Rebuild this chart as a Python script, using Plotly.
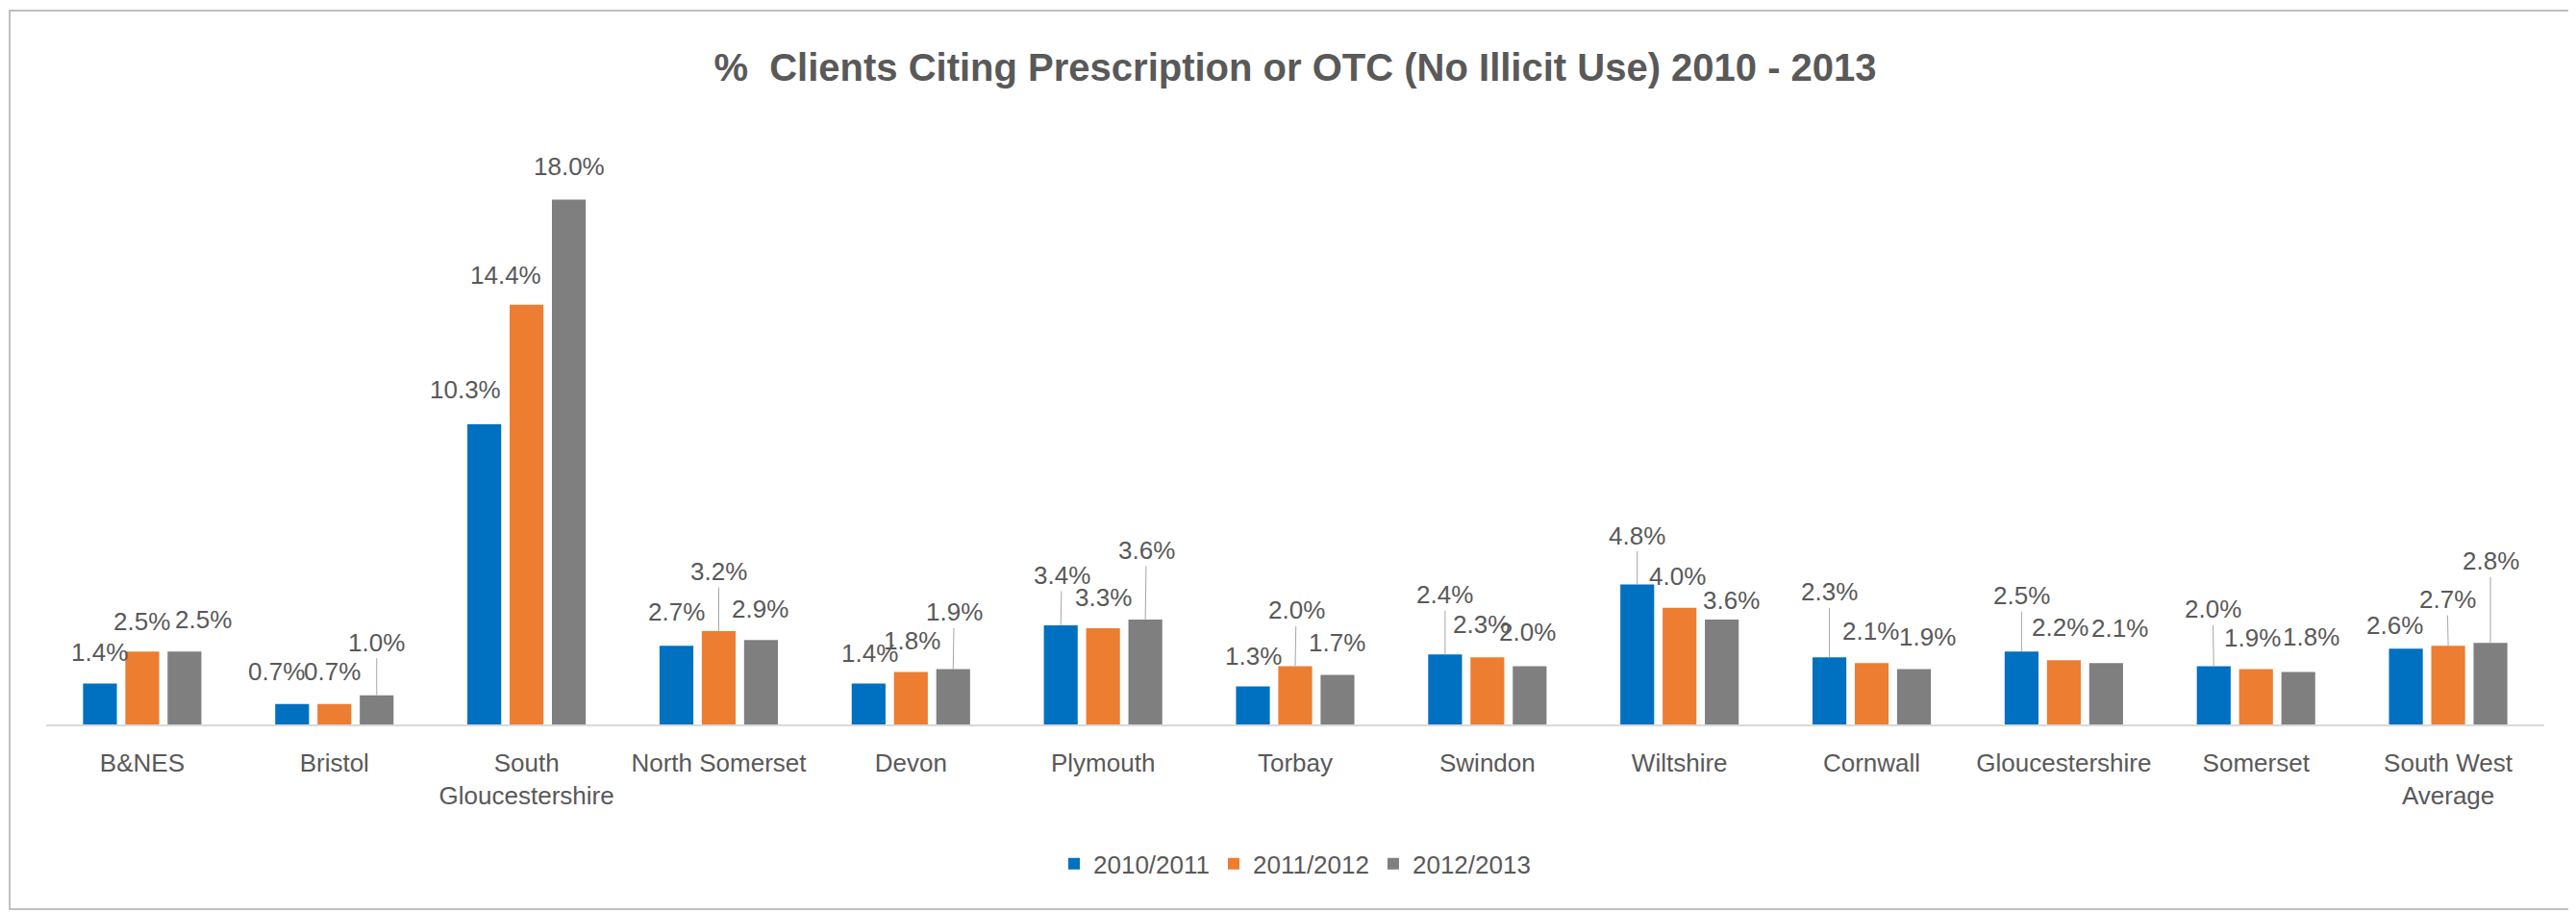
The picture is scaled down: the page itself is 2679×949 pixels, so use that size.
import plotly.graph_objects as go

# data
areas = ["B&NES", "Bristol", "South<br>Gloucestershire", "North Somerset", "Devon",
         "Plymouth", "Torbay", "Swindon", "Wiltshire", "Cornwall",
         "Gloucestershire", "Somerset", "South West<br>Average"]
years = ["2010/2011", "2011/2012", "2012/2013"]
pct_2010_11 = [1.4, 0.7, 10.3, 2.7, 1.4, 3.4, 1.3, 2.4, 4.8, 2.3, 2.5, 2.0, 2.6]
pct_2011_12 = [2.5, 0.7, 14.4, 3.2, 1.8, 3.3, 2.0, 2.3, 4.0, 2.1, 2.2, 1.9, 2.7]
pct_2012_13 = [2.5, 1.0, 18.0, 2.9, 1.9, 3.6, 1.7, 2.0, 3.6, 1.9, 2.1, 1.8, 2.8]

colors = ["#0070C0", "#ED7D31", "#7F7F7F"]

# hand-placed data label offsets (pixels: shift right, distance above bar top)
label_dx = [
    [0, -16, -20, 0, 1, 1, 0, 0, 0, 0, 0, -1, -12],
    [0, -2, -22, 0, 1, 0, 1, -6, -2, -1, -4, -4, -1],
    [20, 0, 0, -1, 1, 1, 0, -2, 10, 14, 14, 13, 0],
]
label_dy = [
    [33, 34, 36, 35, 32, 52, 32, 62, 51, 68, 58, 59, 24],
    [31, 34, 31, 62, 32, 32, 58, 34, 33, 33, 34, 32, 48],
    [33, 55, 35, 32, 59, 72, 33, 35, 20, 33, 36, 36, 85],
]

FONT = "Liberation Sans, Arial, sans-serif"
TXT = "#595959"

fig = go.Figure()
series = [pct_2010_11, pct_2011_12, pct_2012_13]
for name, vals, col in zip(years, series, colors):
    fig.add_trace(go.Bar(x=areas, y=vals, name=name, marker=dict(color=col, line=dict(width=0))))

# data labels, some with leader lines
slot = 0.22
for k, vals in enumerate(series):
    for i, v in enumerate(vals):
        dx, dy = label_dx[k][i], label_dy[k][i]
        lead = dy > 45
        fig.add_annotation(
            x=i + (k - 1) * slot, y=v, xref="x", yref="y",
            text=f"{v:.1f}%",
            showarrow=lead,
            ax=dx, ay=-dy,
            arrowhead=0, arrowwidth=1, arrowcolor="#A6A6A6",
            xshift=0 if lead else dx,
            yshift=0 if lead else dy,
            font=dict(size=26, color=TXT, family=FONT),
        )

# page body has an 8px margin, so the figure is 8px smaller each way
fig.update_layout(
    width=2671, height=941,
    margin=dict(l=40, r=33, t=92, b=196),
    paper_bgcolor="white", plot_bgcolor="white",
    barmode="group", bargap=0.34, bargroupgap=0.2,
    title=dict(
        text="<b>%  Clients Citing Prescription or OTC (No Illicit Use) 2010 - 2013</b>",
        x=0.5, xref="paper", xanchor="center",
        y=1 - 62 / 941, yref="container", yanchor="middle",
        font=dict(size=40, color=TXT, family=FONT),
    ),
    legend=dict(
        orientation="h", x=0.5, xanchor="center", y=-0.222, yanchor="middle",
        font=dict(size=26, color=TXT, family=FONT),
        itemwidth=30,
    ),
    font=dict(family=FONT, color=TXT),
)
fig.update_xaxes(
    type="category", showgrid=False, showline=True, linecolor="#D9D9D9", linewidth=2,
    ticks="", ticklabelstandoff=16, tickangle=0,
    tickfont=dict(size=26, color=TXT, family=FONT),
)
fig.update_yaxes(range=[0, 21.55], visible=False, showgrid=False)

# chart frame
fig.add_shape(type="rect", xref="paper", yref="paper",
              x0=-0.0146, x1=1.021, y0=-0.294, y1=1.1363,
              line=dict(color="#BFBFBF", width=2), layer="below")

fig.write_html("out.html")
